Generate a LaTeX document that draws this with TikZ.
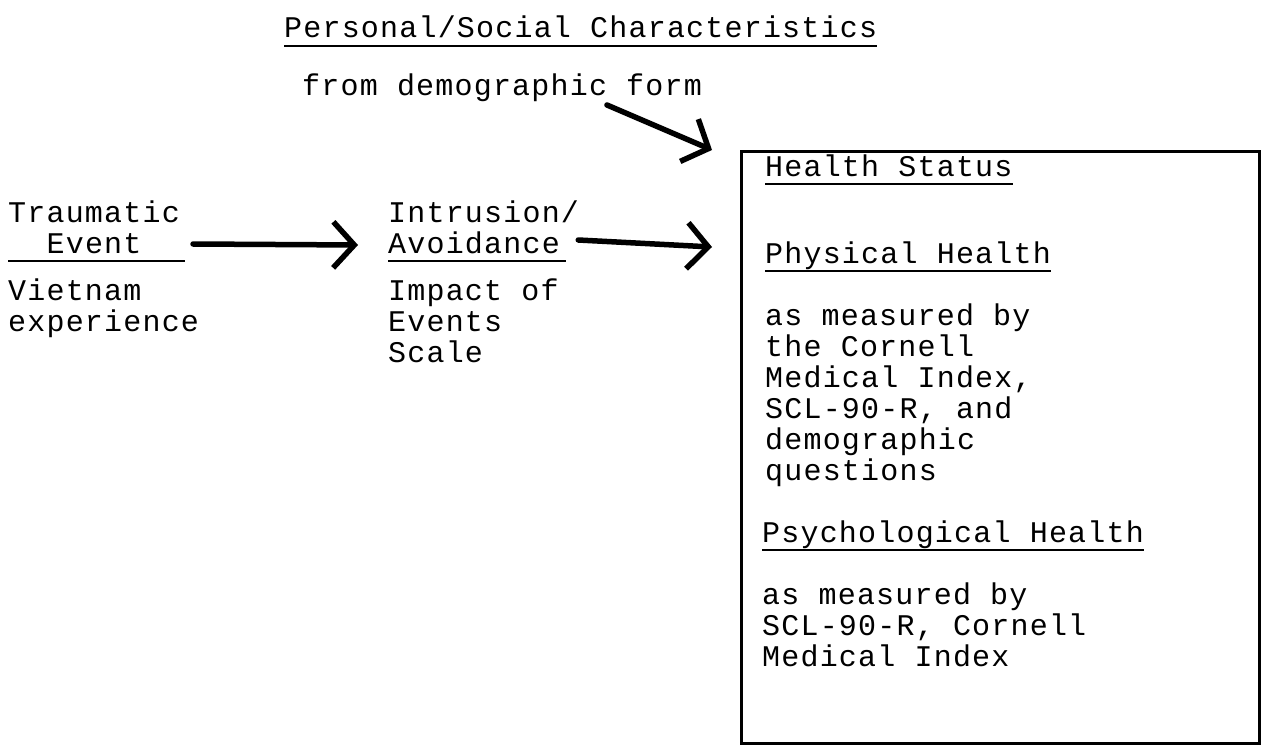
\documentclass[tikz,border=0pt]{standalone}
\usepackage{fontspec}
\newfontfamily\typew[LetterSpace=4]{Liberation Mono}
\usetikzlibrary{arrows.meta}
\tikzset{txt/.style={font=\typew\fontsize{30}{31}\selectfont,inner sep=0pt,anchor=base west,align=left}}
\tikzstyle{b} = [draw,line width=5.5pt,line cap=round,-{Straight Barb[length=21pt,width=46pt,line width=5.5pt]}]
\tikzstyle{uline} = [line width=2.5pt]

\begin{document}
\begin{tikzpicture}[x=1pt,y=-1pt]
\useasboundingbox (0,0) rectangle (1266,746);
\node[txt] (pers) at (284,38) {Personal/Social Characteristics};
\draw [uline] ([yshift=-8pt]pers.base west) -- ([yshift=-8pt]pers.base east);
\node[txt] (demo) at (302,96) {from demographic form};
\node[draw,line width=3pt,inner sep=0pt,minimum width=518pt,minimum height=592pt,anchor=north west] (health) at (740,150) {};
% multi-line nodes sit on the baseline of their last line
\node[txt,align=center] (trauma) at (8,253) {Traumatic\\Event};
\draw [uline] ([yshift=-8pt]trauma.base west) -- ([shift={(5pt,-8pt)}]trauma.base east);
\node[txt] (viet) at (8,331) {Vietnam\\experience};
\node[txt] (intr) at (388,253) {Intrusion/\\Avoidance};
\draw [uline] ([yshift=-8pt]intr.base west) -- ([shift={(-13pt,-8pt)}]intr.base east);
\node[txt] (impact) at (388,362) {Impact of\\Events\\Scale};
% box contents
\node[txt] (status) at (765,177) {Health Status};
\draw [uline] ([yshift=-7pt]status.base west) -- ([yshift=-7pt]status.base east);
\node[txt] (phys) at (765,263) {Physical Health};
\draw [uline] ([yshift=-8pt]phys.base west) -- ([yshift=-8pt]phys.base east);
\node[txt] (physm) at (765,480) {as measured by\\the Cornell\\Medical Index,\\SCL-90-R, and\\demographic\\questions};
\node[txt] (psych) at (762,542) {Psychological Health};
\draw [uline] ([yshift=-8pt]psych.base west) -- ([yshift=-8pt]psych.base east);
\node[txt] (psychm) at (762,666) {as measured by\\SCL-90-R, Cornell\\Medical Index};
% arrows
\draw [b] ([xshift=13pt]trauma.east |- 0,244) -- ([xshift=-30pt]intr.west |- 0,245);
\draw [b] ([xshift=-1pt]intr.east |- 0,240) -- ([xshift=-28pt]health.west |- 0,247);
\draw [b] ([shift={(305pt,-9pt)}]demo.base west) -- ([xshift=-28pt]health.north west);
\end{tikzpicture}
\end{document}
